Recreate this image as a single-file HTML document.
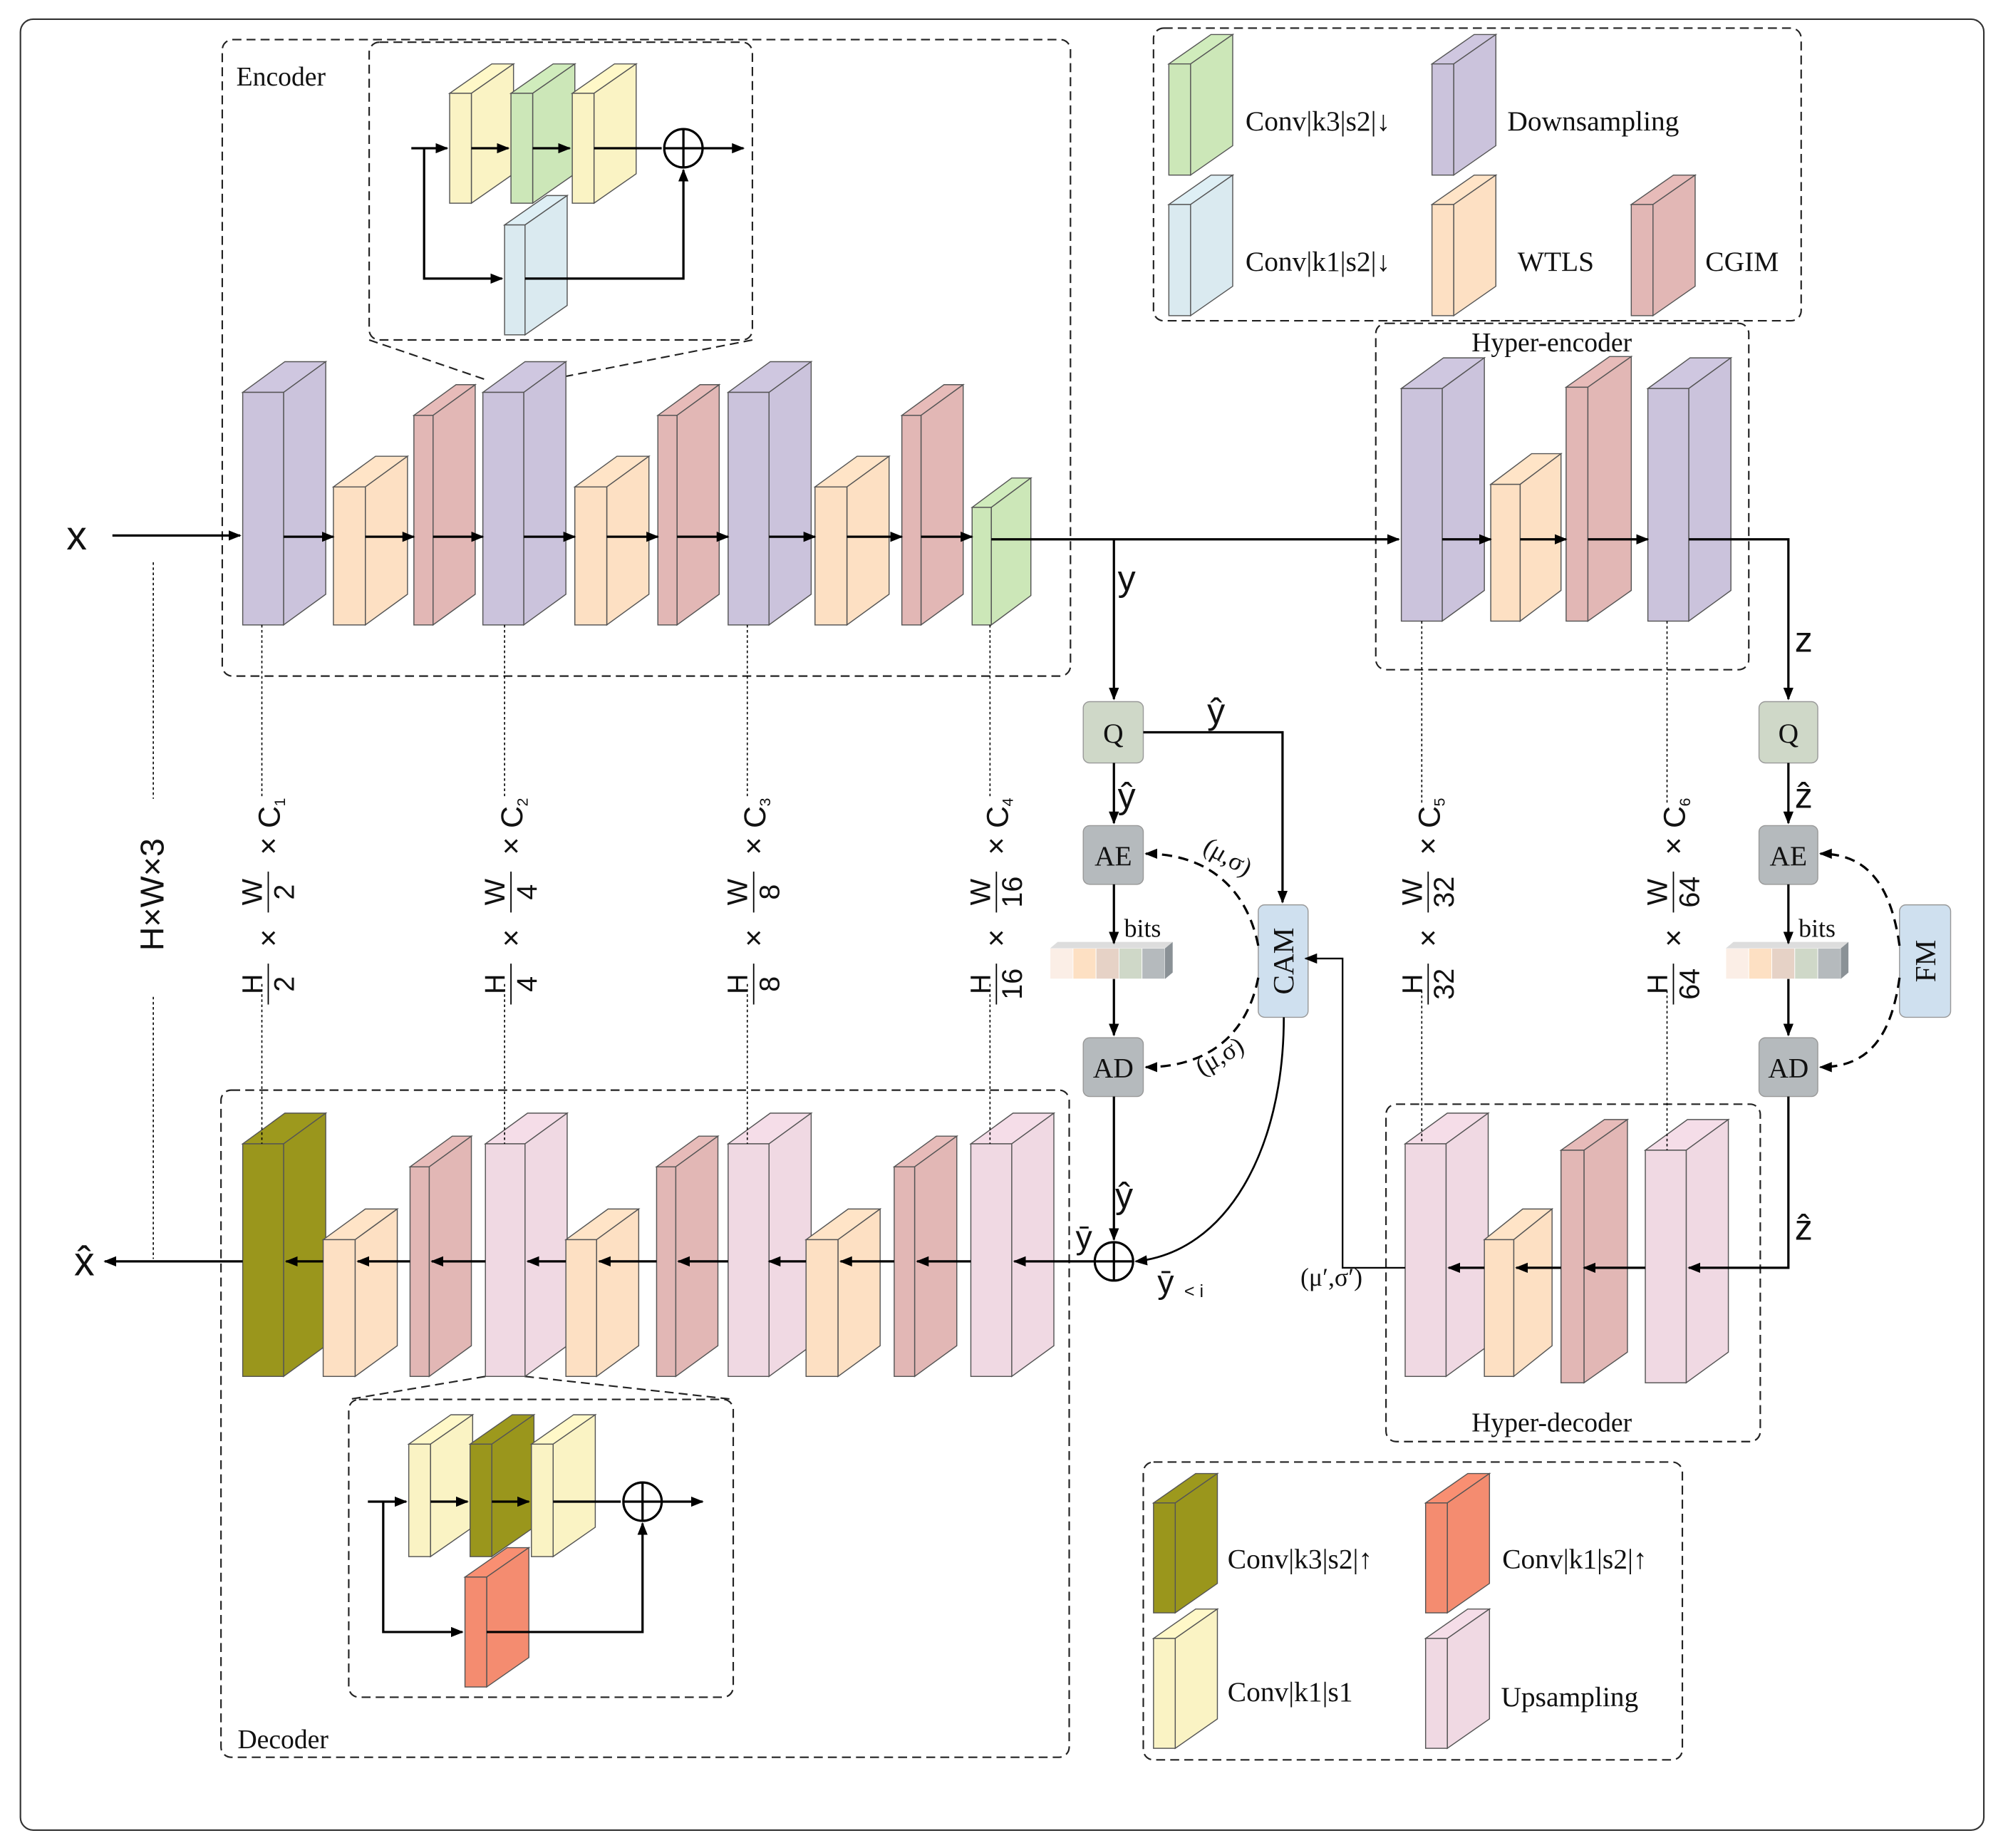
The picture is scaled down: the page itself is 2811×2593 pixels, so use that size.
<!DOCTYPE html>
<html><head><meta charset="utf-8"><style>
html,body{margin:0;padding:0;background:#fff}
svg{display:block}
.s{font-family:"Liberation Serif",serif;fill:#111}
.a{font-family:"Liberation Sans",sans-serif;fill:#111}
</style></head><body>
<svg id="g" width="2811" height="2593" viewBox="0 0 1568 1446" preserveAspectRatio="none" xmlns="http://www.w3.org/2000/svg">
<defs>
<marker id="ar" markerWidth="10" markerHeight="8" refX="9" refY="4" orient="auto" markerUnits="userSpaceOnUse"><path d="M0,0 L10,4 L0,8 z" fill="#000"/></marker>
</defs>
<rect x="16" y="15" width="1537" height="1417" rx="10" fill="#fff" stroke="#333" stroke-width="1.2"/>
<g id="d" fill="none" stroke="#222" stroke-width="1.2" stroke-dasharray="7,4">
<rect x="174" y="31" width="664" height="498" rx="8"/>
<rect x="289" y="33" width="300" height="233" rx="8"/>
<rect x="903" y="22" width="507" height="229" rx="8"/>
<rect x="1077" y="253" width="292" height="271" rx="8"/>
<rect x="173" y="853" width="664" height="522" rx="8"/>
<rect x="273" y="1095" width="301" height="233" rx="8"/>
<rect x="1085" y="864" width="293" height="264" rx="8"/>
<rect x="895" y="1144" width="422" height="233" rx="8"/>
<line x1="289" y1="266" x2="380" y2="297"/><line x1="589" y1="266" x2="430" y2="297"/>
<line x1="380" y1="1077" x2="273" y2="1095"/><line x1="411" y1="1077" x2="574" y2="1095"/>
</g>
<g id="blocks"></g>
<g id="lines" fill="none" stroke="#000" stroke-width="1.8"></g>
<g id="txt"></g>
</svg>
<script>
const NS="http://www.w3.org/2000/svg";
const B=document.getElementById('blocks'),L=document.getElementById('lines'),T=document.getElementById('txt');
const C={pu:'#cbc3dc',pe:'#fde0c3',ro:'#e2b7b5',gr:'#cce7b8',lb:'#daeaf0',ye:'#faf3c4',ol:'#9a961c',sa:'#f48c70',pi:'#f0d9e3'};
function el(p,t,a,txt){const e=document.createElementNS(NS,t);for(const k in a)e.setAttribute(k,a[k]);if(txt!==undefined)e.textContent=txt;p.appendChild(e);return e;}
function shade(h,f){let n=parseInt(h.slice(1),16);let r=n>>16,g=(n>>8)&255,b=n&255;return `rgb(${Math.round(r*f)},${Math.round(g*f)},${Math.round(b*f)})`;}
function blk(x,y,w,h,c,dx=33,dy=23){const st={stroke:'#555','stroke-width':0.8};
el(B,'polygon',Object.assign({points:`${x},${y} ${x+dx},${y-dy} ${x+w+dx},${y-dy} ${x+w},${y}`,fill:shade(c,1.02)},st));
el(B,'polygon',Object.assign({points:`${x+w},${y} ${x+w+dx},${y-dy} ${x+w+dx},${y+h-dy} ${x+w},${y+h}`,fill:c},st));
el(B,'rect',Object.assign({x:x,y:y,width:w,height:h,fill:c},st));}
[[190,307,32,182,'pu'],[261,381,25,108,'pe'],[324,325,15,164,'ro'],[378,307,32,182,'pu'],[450,381,25,108,'pe'],[515,325,15,164,'ro'],[570,307,32,182,'pu'],[638,381,25,108,'pe'],[706,325,15,164,'ro'],[761,397,15,92,'gr',31,23]].forEach(b=>blk(b[0],b[1],b[2],b[3],C[b[4]],b[5]||33,b[6]||24));
[[1097,304,32,182,'pu'],[1167,379,23,107,'pe',32],[1226,303,17,183,'ro',34],[1290,304,32,182,'pu']].forEach(b=>blk(b[0],b[1],b[2],b[3],C[b[4]],b[5]||33,24));
[[190,895,32,182,'ol'],[253,970,25,107,'pe'],[321,913,15,164,'ro'],[380,895,31,182,'pi',34],[443,970,24,107,'pe'],[514,913,15,164,'ro'],[570,895,32,182,'pi'],[631,970,25,107,'pe'],[700,913,16,164,'ro'],[760,895,32,182,'pi']].forEach(b=>blk(b[0],b[1],b[2],b[3],C[b[4]],33,24));
[[1100,895,32,182,'pi'],[1162,970,23,107,'pe',30],[1222,900,18,182,'ro',34],[1288,900,32,182,'pi']].forEach(b=>blk(b[0],b[1],b[2],b[3],C[b[4]],b[5]||33,24));
blk(352,73,17,86,C.ye,33,23);blk(400,73,17,86,C.gr,33,23);blk(448,73,17,86,C.ye,33,23);blk(395,176,16,86,C.lb,33,23);
blk(320,1130,17,88,C.ye,33,23);blk(368,1130,17,88,C.ol,33,23);blk(416,1130,17,88,C.ye,33,23);blk(364,1234,17,86,C.sa,33,23);
blk(915,50,17,87,C.gr);blk(1121,50,17,87,C.pu);blk(915,160,17,87,C.lb);blk(1121,160,17,87,C.pe);blk(1277,160,17,87,C.ro);
blk(903,1176,17,86,C.ol);blk(1116,1176,17,86,C.sa);blk(903,1282,17,86,C.ye);blk(1116,1282,17,86,C.pi);
function box(x,y,w,h,f,t,rot){el(B,'rect',{x,y,width:w,height:h,rx:5,fill:f,stroke:'#999','stroke-width':0.8});
const cx=x+w/2,cy=y+h/2;if(rot)el(T,'text',{x:cx,y:cy+8,'text-anchor':'middle','font-size':23,class:'s',transform:`rotate(-90 ${cx} ${cy})`},t);else el(T,'text',{x:cx,y:cy+8,'text-anchor':'middle','font-size':22,class:'s'},t);}
box(848,549,47,48,'#cfd8c8','Q');box(848,646,47,46,'#b5babd','AE');box(848,812,47,46,'#b5babd','AD');
box(1377,549,46,48,'#cfd8c8','Q');box(1377,646,46,46,'#b5babd','AE');box(1377,812,46,46,'#b5babd','AD');
box(985,708,39,88,'#cfe0ef','CAM',1);box(1487,708,40,88,'#cfe0ef','FM',1);
function strip(x,y){const cs=['#fbeee6','#fde0c3','#e6d2c6','#cfd8c8','#b5babd'];for(let i=0;i<5;i++)el(B,'rect',{x:x+i*18,y,width:18,height:24,fill:cs[i],stroke:'#fff','stroke-width':0.5});
el(B,'polygon',{points:`${x+90},${y} ${x+96},${y-5} ${x+96},${y+19} ${x+90},${y+24}`,fill:'#8a9196'});el(B,'polygon',{points:`${x},${y} ${x+6},${y-5} ${x+96},${y-5} ${x+90},${y}`,fill:'#ddd'});}
strip(822,742);strip(1351,742);
function ln(d,arrow,extra){const a={d};if(arrow)a['marker-end']='url(#ar)';Object.assign(a,extra||{});return el(L,'path',a);}
ln('M88,419 L188,419',1);
[[222,261],[286,324],[339,378],[410,450],[475,515],[530,570],[602,638],[663,706],[721,761]].forEach(p=>ln(`M${p[0]},420 L${p[1]},420`,1));
ln('M776,422 L1095,422',1);
[[1129,1167],[1190,1226],[1243,1290]].forEach(p=>ln(`M${p[0]},422 L${p[1]},422`,1));
ln('M1322,422 L1400,422 L1400,547',1);
ln('M872,422 L872,547',1);ln('M872,597 L872,644',1);ln('M895,573 L1004,573 L1004,706',1);
ln('M872,692 L872,738',1);ln('M872,766 L872,810',1);ln('M872,858 L872,970',1);
ln('M1400,597 L1400,644',1);ln('M1400,692 L1400,738',1);ln('M1400,766 L1400,810',1);
ln('M1400,858 L1400,992 L1322,992',1);
[[1288,1240],[1222,1187],[1162,1134]].forEach(p=>ln(`M${p[0]},992 L${p[1]},992`,1));
ln('M1100,992 L1051,992 L1051,750 L1022,750',1,{'stroke-width':1.3});
ln('M1005,796 C1005,900 960,980 889,987',1,{'stroke-width':1.5});
ln('M857,987 L794,987',1);
[[760,718],[700,658],[631,602],[570,531],[514,469],[443,413],[380,338],[321,280],[253,224]].forEach(p=>ln(`M${p[0]},987 L${p[1]},987`,1));
ln('M190,987 L82,987',1);
el(L,'circle',{cx:872,cy:987,r:15});ln('M857,987 L887,987');ln('M872,972 L872,1002');
ln('M985,740 C975,690 940,668 897,668',1,{'stroke-dasharray':'8,5'});
ln('M985,765 C975,815 940,835 897,835',1,{'stroke-dasharray':'8,5'});
ln('M1487,740 C1480,690 1460,668 1425,668',1,{'stroke-dasharray':'8,5'});
ln('M1487,765 C1480,815 1460,835 1425,835',1,{'stroke-dasharray':'8,5'});
ln('M322,116 L350,116',1);ln('M369,116 L398,116',1);ln('M417,116 L446,116',1);ln('M465,116 L518,116');ln('M550,116 L582,116',1);
el(L,'circle',{cx:535,cy:116,r:15});ln('M520,116 L550,116');ln('M535,101 L535,131');
ln('M332,116 L332,218 L393,218',1);ln('M411,218 L535,218 L535,133',1);
ln('M288,1175 L318,1175',1);ln('M337,1175 L366,1175',1);ln('M385,1175 L414,1175',1);ln('M433,1175 L486,1175');ln('M518,1175 L550,1175',1);
el(L,'circle',{cx:503,cy:1175,r:15});ln('M488,1175 L518,1175');ln('M503,1160 L503,1190');
ln('M300,1175 L300,1277 L362,1277',1);ln('M381,1277 L503,1277 L503,1192',1);
const dot={'stroke-dasharray':'2,2','stroke-width':0.9};
[[205,489,625,770,895],[395,489,625,770,895],[585,489,625,770,895],[775,489,625,770,895],[1113,486,628,775,895],[1305,486,628,775,900]].forEach(p=>{ln(`M${p[0]},${p[1]} L${p[0]},${p[2]}`,0,dot);ln(`M${p[0]},${p[3]} L${p[0]},${p[4]}`,0,dot);});
ln('M120,440 L120,625',0,dot);ln('M120,780 L120,985',0,dot);
function t(x,y,s,fs,cls,anchor){return el(T,'text',{x,y,'font-size':fs,class:cls||'s','text-anchor':anchor||'start'},s);}
t(185,67,'Encoder',21);t(186,1368,'Decoder',21);t(1152,275,'Hyper-encoder',21);t(1152,1120,'Hyper-decoder',21);
t(975,102,'Conv|k3|s2|↓',22);t(1180,102,'Downsampling',22);t(975,212,'Conv|k1|s2|↓',22);t(1188,212,'WTLS',22);t(1335,212,'CGIM',22);
t(961,1227,'Conv|k3|s2|↑',22);t(1176,1227,'Conv|k1|s2|↑',22);t(961,1331,'Conv|k1|s1',22);t(1175,1335,'Upsampling',22);
t(52,430,'x',32,'a');t(58,998,'x̂',32,'a');
t(875,462,'y',28,'a');t(945,566,'ŷ',28,'a');t(875,632,'ŷ',28,'a');t(873,945,'ŷ',28,'a');t(842,977,'ȳ',26,'a');t(906,1012,'ȳ',26,'a');t(927,1015,'< i',14,'a');
t(1405,510,'z',28,'a');t(1405,632,'ẑ',28,'a');t(1405,970,'ẑ',28,'a');
t(880,733,'bits',20);t(1408,733,'bits',20);t(1018,1006,'(μ′,σ′)',20);
el(T,'text',{x:958,y:676,'font-size':20,class:'s','text-anchor':'middle',transform:'rotate(30 958 676)'},'(μ,σ)');
el(T,'text',{x:958,y:832,'font-size':20,class:'s','text-anchor':'middle',transform:'rotate(-30 958 832)'},'(μ,σ)');
el(T,'text',{x:128,y:700,'font-size':26,class:'a','text-anchor':'middle',transform:'rotate(-90 128 700)'},'H×W×3');
function dim(x,d,c){const g=el(T,'g',{transform:`translate(${x+8},700) rotate(-90)`});
el(g,'text',{x:-70,y:-8,'font-size':22,class:'a','text-anchor':'middle'},'H');el(g,'text',{x:-70,y:17,'font-size':22,class:'a','text-anchor':'middle'},d);el(g,'line',{x1:-86,y1:-3,x2:-54,y2:-3,stroke:'#000','stroke-width':1});
el(g,'text',{x:-34,y:5,'font-size':24,class:'a','text-anchor':'middle'},'×');
el(g,'text',{x:2,y:-8,'font-size':22,class:'a','text-anchor':'middle'},'W');el(g,'text',{x:2,y:17,'font-size':22,class:'a','text-anchor':'middle'},d);el(g,'line',{x1:-14,y1:-3,x2:18,y2:-3,stroke:'#000','stroke-width':1});
el(g,'text',{x:38,y:5,'font-size':24,class:'a','text-anchor':'middle'},'×');
el(g,'text',{x:52,y:6,'font-size':24,class:'a'},'C');el(g,'text',{x:69,y:10,'font-size':12,class:'a'},c);}
dim(205,'2','1');dim(395,'4','2');dim(585,'8','3');dim(775,'16','4');dim(1113,'32','5');dim(1305,'64','6');
</script>
</body></html>
